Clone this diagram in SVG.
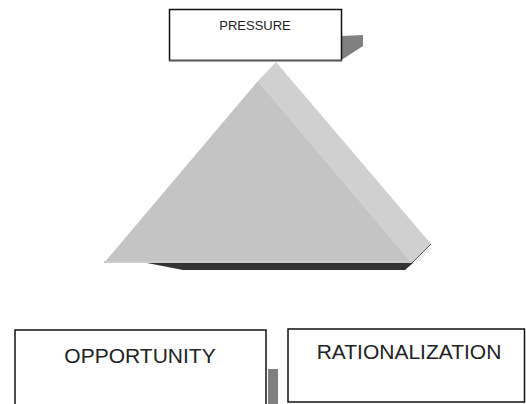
<svg xmlns="http://www.w3.org/2000/svg" width="526" height="404" viewBox="0 0 526 404">
<style>
.box{fill:#ffffff;stroke:#111111;stroke-width:1.5}
.lbl{font-family:"Liberation Sans",Arial,sans-serif;fill:#222222;text-anchor:middle}
.shadow{fill:#808080}
</style>
<rect width="526" height="404" fill="#ffffff"/>
<g id="pyramid">
  <polygon points="147,263 413,263 405,270 183,270" fill="#333333"/>
  <polygon points="276,62 431,244 412,263 258,81" fill="#d0d0d0"/>
  <polygon points="258,81 104,263 412,263" fill="#c4c4c4"/>
  <polygon points="104,261 412,261 412,263 104,263" fill="#cccccc"/>
  <polyline points="431,244 412,263" fill="none" stroke="#555555" stroke-width="1"/>
</g>
<g id="pressure">
  <polygon class="shadow" points="341,36 363,35 363,46 343,59 341,59"/>
  <rect class="box" x="169.5" y="9.5" width="172" height="51" stroke-width="1"/>
  <line x1="169" y1="60.5" x2="342" y2="60.5" stroke="#555555" stroke-width="1.5"/>
  <text class="lbl" x="255" y="30" font-size="13" fill="#444444">PRESSURE</text>
</g>
<g id="opportunity">
  <rect class="shadow" x="268" y="369" width="10" height="36"/>
  <rect class="box" x="15" y="330" width="251" height="80"/>
  <text class="lbl" x="140" y="363" font-size="21">OPPORTUNITY</text>
</g>
<g id="rationalization">
  <rect class="box" x="288" y="329" width="236.5" height="73"/>
  <text class="lbl" x="409" y="359" font-size="21">RATIONALIZATION</text>
</g>
<g id="connectors"></g>
</svg>
